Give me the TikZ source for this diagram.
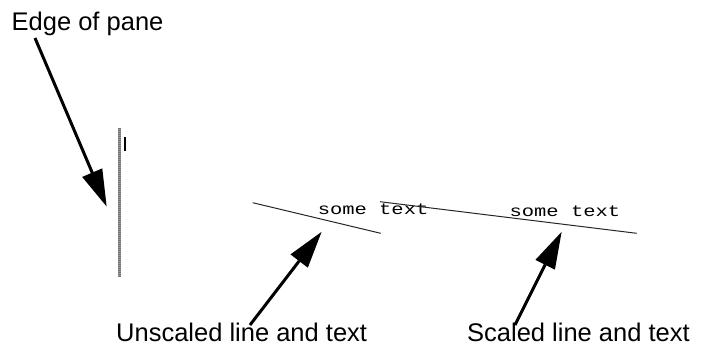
\documentclass[tikz,border=0pt]{standalone}
\usepackage{fontspec}
\setmainfont{Liberation Sans}
\newfontfamily\monofnt{Liberation Mono}
\usetikzlibrary{arrows.meta}
\tikzset{
  label/.style={inner sep=0pt, anchor=base west, font=\fontsize{25.5}{28}\selectfont},
  codetext/.style={inner sep=0pt, anchor=base west, xscale=1.28, font=\monofnt\fontsize{16}{18}\selectfont},
  pointer/.style={line width=3pt, -{Triangle[length=37pt,width=21pt]}},
  thinline/.style={line width=1pt, black!85},
}
\begin{document}
\begin{tikzpicture}[x=1pt,y=-1pt]
\useasboundingbox (0,0) rectangle (701,346);
% labels
\node[label] (edge) at (11.5,30.7) {Edge of pane};
\node[label] (unsc) at (116,341.8) {Unscaled line and text};
\node[label] (scal) at (467,341.8) {Scaled line and text};
% pane edge
\coordinate (paneTop) at (119,128);
\coordinate (paneBot) at (119,277);
\draw[line width=3pt, gray!80] (paneTop) -- (paneBot);
\draw[line width=3pt, black!55, dash pattern=on 1pt off 1pt] (paneTop) -- (paneBot);
\coordinate (tickA) at (125,137);
\coordinate (tickB) at (125,151);
\draw[line width=2pt] (tickA) -- (tickB);
% unscaled line and text
\coordinate (l1a) at (252.7,202.7);
\coordinate (l1b) at (380.7,233.3);
\draw[thinline] (l1a) -- (l1b);
\node[codetext] (t1) at (317.5,214.3) {some text};
% scaled line and text
\coordinate (l2a) at (380,201.7);
\coordinate (l2b) at (636.7,233.3);
\draw[thinline] (l2a) -- (l2b);
\node[codetext] (t2) at (509.3,216.5) {some text};
% arrows
\coordinate (a1s) at (35,38);
\coordinate (a1e) at (106.7,206.7);
\coordinate (a2s) at (250,325);
\coordinate (a2e) at (321.7,231.7);
\coordinate (a3s) at (515,325);
\coordinate (a3e) at (561.7,231.7);
\draw[pointer] (a1s) -- (a1e);
\draw[pointer] (a2s) -- (a2e);
\draw[pointer] (a3s) -- (a3e);
\end{tikzpicture}
\end{document}
